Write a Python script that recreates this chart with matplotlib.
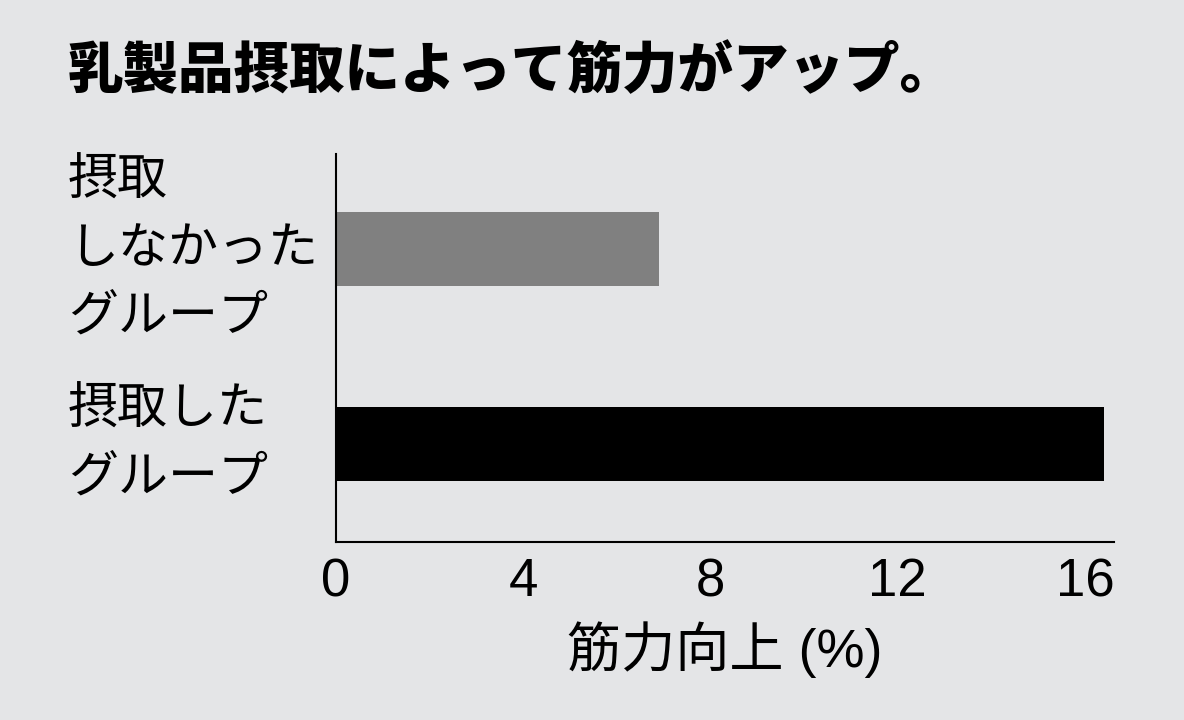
import matplotlib
matplotlib.use("Agg")
import matplotlib.pyplot as plt

# Data
categories = ["摂取\nしなかった\nグループ", "摂取した\nグループ"]
values = [6.9, 16.4]
bar_colors = ["#808080", "#000000"]
xticks = [0, 4, 8, 12, 16]
title = "乳製品摂取によって筋力がアップ。"
xlabel = "筋力向上 (%)"

BG = "#e4e5e7"
FAM = ["Liberation Sans", "Noto Sans CJK JP", "DejaVu Sans"]
JFAM = ["Noto Sans CJK JP", "DejaVu Sans"]
plt.rcParams['font.family'] = FAM

fig = plt.figure(figsize=(11.84, 7.2), dpi=100, facecolor=BG)
ax = fig.add_axes([336/1184, 1-542/720, (1114-336)/1184, (542-154)/720])
ax.set_facecolor(BG)

ypos = [1, 0]
ax.barh(ypos, values, height=0.38, color=bar_colors)
ax.set_xlim(0, 16.62)
ax.set_ylim(-0.506, 1.488)

for s in ["top", "right"]:
    ax.spines[s].set_visible(False)
for s in ["left", "bottom"]:
    ax.spines[s].set_linewidth(1.5)
    ax.spines[s].set_color("black")

ax.set_xticks(xticks)
ax.set_xticklabels([str(t) for t in xticks], fontsize=38, family=FAM)
ax.tick_params(axis="x", length=0, pad=11)

ax.set_yticks(ypos)
ax.set_yticklabels(categories, fontsize=36, family=JFAM, linespacing=1.4)
ax.tick_params(axis="y", length=0, pad=(336-68)*0.72)
for lab in ax.get_yticklabels():
    lab.set_horizontalalignment("left")
    lab.set_multialignment("left")
    lab.set_verticalalignment("center")

ax.set_xlabel(xlabel, fontsize=39, family=FAM, labelpad=10)

fig.text(68/1184, 1-72/720, title, fontsize=40, fontweight="black",
         family=JFAM, ha="left", va="center")

fig.savefig("out.png", dpi=100, facecolor=BG)
